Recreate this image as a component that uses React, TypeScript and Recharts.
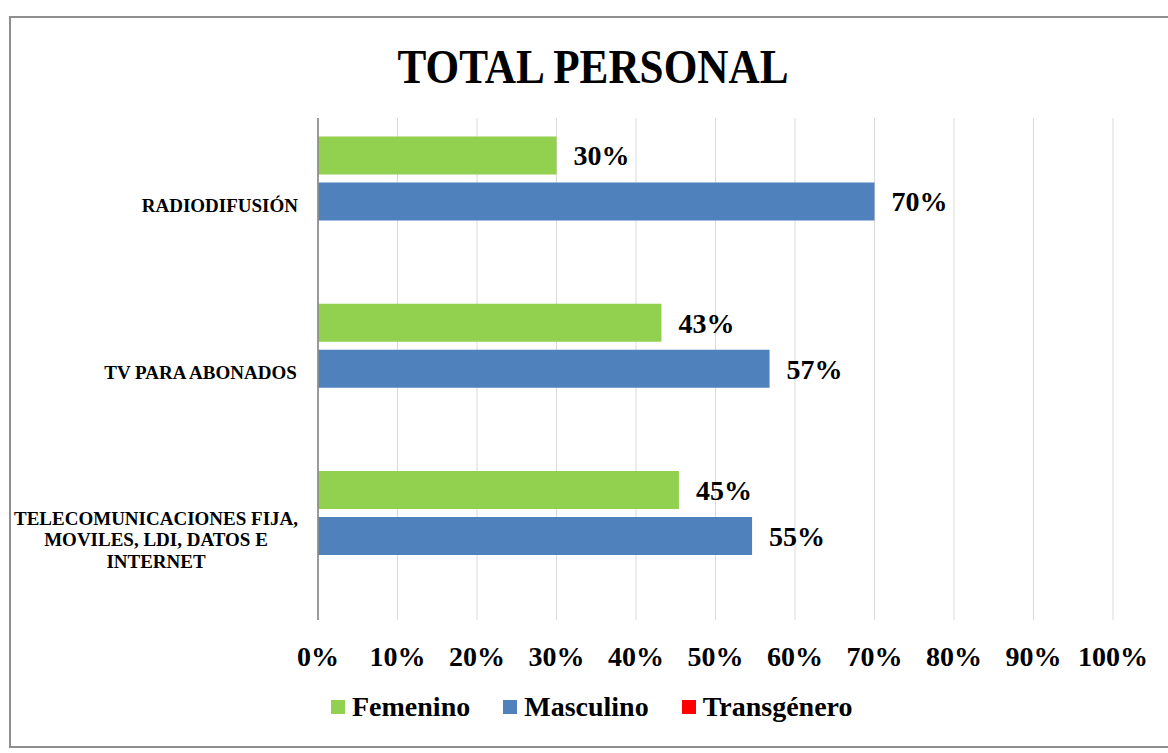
import React from "react";
import { BarChart, Bar, XAxis, YAxis, CartesianGrid, Legend, LabelList } from "recharts";

const categoryLines = [
  ["RADIODIFUSIÓN"],
  ["TV PARA ABONADOS"],
  ["TELECOMUNICACIONES FIJA,", "MOVILES, LDI, DATOS E", "INTERNET"],
];
const categories = categoryLines.map((l) => l.join(" "));
const femenino = [30, 43.2, 45.4];
const masculino = [70, 56.8, 54.6];
const transgenero = [0, 0, 0];
const xTicks = [0, 10, 20, 30, 40, 50, 60, 70, 80, 90, 100];

const SERIES = [
  { key: "Femenino", color: "#92d050" },
  { key: "Masculino", color: "#4f81bd" },
  { key: "Transgénero", color: "#ff0000" },
];

const FONT = "'Liberation Serif', 'DejaVu Serif', serif";

const data = categories.map((name, i) => ({
  name,
  Femenino: femenino[i],
  Masculino: masculino[i],
  Transgénero: transgenero[i],
}));

let ctx: CanvasRenderingContext2D | null = null;
function textWidth(s: string, font: string) {
  if (!ctx) ctx = document.createElement("canvas").getContext("2d");
  if (!ctx) return s.length * 11;
  ctx.font = font;
  return ctx.measureText(s).width;
}

/* category label: single lines right-aligned, multi-line block centred */
function CategoryTick(props: any) {
  const { x, y, payload } = props;
  const idx = categories.indexOf(payload.value);
  const lines = idx >= 0 ? categoryLines[idx] : [String(payload.value)];
  const fs = 19;
  const lh = 21.5;
  const w = Math.max(...lines.map((l) => textWidth(l, `bold ${fs}px ${FONT}`)));
  const cx = x - w / 2;
  const startY = y + 3 - ((lines.length - 1) * lh) / 2;
  return (
    <text
      textAnchor="middle"
      fontFamily={FONT}
      fontWeight="bold"
      fontSize={fs}
      fill="#000"
      dominantBaseline="central"
    >
      {lines.map((l, i) => (
        <tspan key={i} x={cx} y={startY + i * lh}>
          {l}
        </tspan>
      ))}
    </text>
  );
}

function LegendContent() {
  return (
    <div
      style={{
        display: "flex",
        alignItems: "center",
        height: 30,
        fontFamily: FONT,
        fontWeight: "bold",
        fontSize: 28,
        color: "#000",
      }}
    >
      {SERIES.map((s) => (
        <div key={s.key} style={{ display: "flex", alignItems: "center", marginRight: 33 }}>
          <span
            style={{ display: "inline-block", width: 14, height: 14, background: s.color, marginRight: 7 }}
          />
          <span style={{ lineHeight: "30px" }}>{s.key}</span>
        </div>
      ))}
    </div>
  );
}

export default function App() {
  return (
    <div style={{ position: "absolute", left: 0, top: 0, width: 1168, height: 753, background: "#fff" }}>
      <div
        style={{
          position: "absolute",
          left: 9,
          top: 16,
          width: 1157,
          height: 728,
          borderLeft: "2px solid #8e8e8e",
          borderTop: "2px solid #8e8e8e",
          borderBottom: "2px solid #8e8e8e",
        }}
      />
      <div
        style={{
          position: "absolute",
          left: 0,
          top: 43,
          width: 1186,
          textAlign: "center",
          fontFamily: FONT,
          fontWeight: "bold",
          fontSize: 48,
          lineHeight: 1,
          color: "#000",
          transform: "scaleX(0.9)",
          transformOrigin: "593px 0",
        }}
      >
        TOTAL PERSONAL
      </div>
      <div style={{ position: "absolute", left: 0, top: 0 }}>
        <BarChart
          width={1168}
          height={753}
          data={data}
          layout="vertical"
          margin={{ top: 118, right: 55, left: 0, bottom: 93 }}
          barCategoryGap="11%"
          barGap={8}
        >
          <CartesianGrid horizontal={false} stroke="#d9d9d9" strokeWidth={1} />
          <XAxis
            type="number"
            domain={[0, 100]}
            ticks={xTicks}
            tickFormatter={(v) => `${v}%`}
            axisLine={false}
            tickLine={false}
            tickMargin={20}
            height={40}
            interval={0}
            tick={{ fontFamily: FONT, fontWeight: "bold", fontSize: 28, fill: "#000" }}
          />
          <YAxis
            type="category"
            dataKey="name"
            width={318}
            axisLine={{ stroke: "#8c8c8c", strokeWidth: 1.7 }}
            tickLine={false}
            tickMargin={14}
            interval={0}
            tick={<CategoryTick />}
          />
          <Legend
            verticalAlign="middle"
            content={<LegendContent />}
            wrapperStyle={{ top: 692, left: 331, width: 820, height: 30 }}
          />
          {SERIES.map((s) => (
            <Bar key={s.key} dataKey={s.key} fill={s.color} isAnimationActive={false}>
              {s.key !== "Transgénero" && (
                <LabelList
                  dataKey={s.key}
                  position="right"
                  offset={17}
                  formatter={(v: any) => `${Math.round(Number(v))}%`}
                  fill="#000"
                  fontSize={28}
                  fontWeight="bold"
                  fontFamily={FONT}
                />
              )}
            </Bar>
          ))}
        </BarChart>
      </div>
    </div>
  );
}
